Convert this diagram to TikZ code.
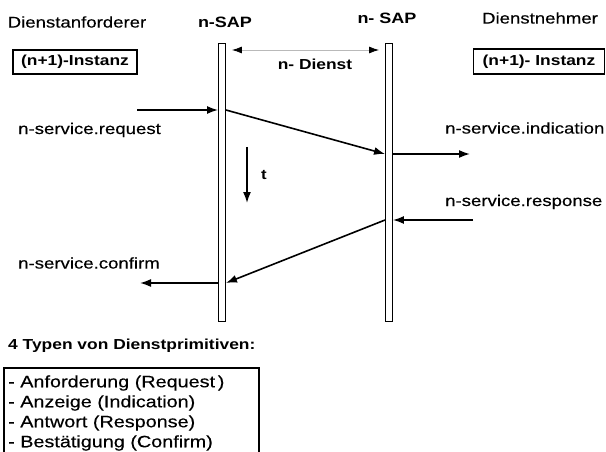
\documentclass[tikz,border=0pt]{standalone}
\usepackage{fontspec}
\setmainfont{Liberation Sans}[FakeStretch=1.2, UprightFeatures={FakeBold=0.3}]
\usetikzlibrary{arrows.meta}
\usetikzlibrary{positioning}

\begin{document}
\begin{tikzpicture}[
        x=1pt, y=-1pt,
        >=Latex,
        every node/.style={inner sep=0pt},
        head/.style={font=\fontsize{15}{18}\selectfont\bfseries},
        role/.style={font=\fontsize{15.5}{18}\selectfont},
        inst/.style={
            draw=black,
            line width=1.6pt,
            font=\fontsize{14.5}{17}\selectfont\bfseries
        },
        sap/.style={
            draw=black,
            line width=1.4pt,
            fill=white,
            minimum width=6.5pt,
            minimum height=277.5pt
        },
        msg/.style={line width=1.6pt, -{Latex[length=11pt,width=8pt]}},
        lbl/.style={anchor=west, font=\fontsize{15.5}{18}\selectfont},
        listtext/.style={anchor=west, font=\fontsize{16.5}{20}\selectfont}
    ]

    \useasboundingbox (0,0) rectangle (606,452);

    % Kopfzeile
    \node[role] (anf)   at (77,22)  {Dienstanforderer};
    \node[head] (sapl)  at (225,22) {n-SAP};
    \node[head] (sapr)  at (387,18) {n- SAP};
    \node[role] (nehm)  at (540,18) {Dienstnehmer};

    \node[inst, minimum width=124pt, minimum height=24pt] (instl) at (75,62) {(n+1)-Instanz};
    \node[inst, minimum width=131pt, minimum height=25pt] (instr) at (539,61.5) {(n+1)- Instanz};

    % die beiden Dienstzugangspunkte
    \node[sap] (barl) at (222,182.5) {};
    \node[sap] (barr) at (389,182.5) {};

    \coordinate (dn)  at (315,50);
    \draw[gray!55, line width=0.8pt, shorten <=6pt, shorten >=6pt,
        {Latex[black,length=10pt,width=7pt]}-{Latex[black,length=10pt,width=7pt]}]
        (barl.east |- dn) -- (barr.west |- dn);
    \node[font=\fontsize{14.5}{17}\selectfont\bfseries] (dienst) at (315,64) {n- Dienst};

    % Dienstprimitive
    \coordinate (req) at (137,110);
    \coordinate (ind) at (470,154);
    \coordinate (rsp) at (473,220);
    \coordinate (cnf) at (140,283);

    \draw[msg] (req) -- (barl.west |- req);
    \draw[msg] (barl.east |- req) -- (barr.west |- ind);
    \draw[msg] (barr.east |- ind) -- (ind);
    \draw[msg] (rsp) -- (barr.east |- rsp);
    \draw[msg] (barr.west |- rsp) -- (barl.east |- cnf);
    \draw[msg] (barl.west |- cnf) -- (cnf);

    \node[lbl] (lreq) at (18,130)  {n-service.request};
    \node[lbl] (lind) at (445,128) {n-service.indication};
    \node[lbl] (lrsp) at (445,202) {n-service.response};
    \node[lbl] (lcnf) at (18,263)  {n-service.confirm};

    % Zeitachse
    \coordinate (t0) at (247,147);
    \coordinate (t1) at (247,203);
    \draw[msg] (t0) -- (t1);
    \node[font=\fontsize{14}{16}\selectfont\bfseries] (t) at (264,175) {t};

    % Legende
    \node[anchor=west, font=\fontsize{14.5}{17}\selectfont\bfseries] (typen) at (8,346)
        {4 Typen von Dienstprimitiven:};
    \node[draw=black, line width=1.6pt, anchor=north west,
        minimum width=255pt, minimum height=100pt] (liste) at (3,367) {};
    \foreach \zeile [count=\i] in {{- Anforderung (Request\,)}, {- Anzeige (Indication)},
            {- Antwort (Response)}, {- Bestätigung (Confirm)}}
        \node[listtext] (typ\i) at (8,363+20*\i) {\zeile};

    \end{tikzpicture}
\end{document}
